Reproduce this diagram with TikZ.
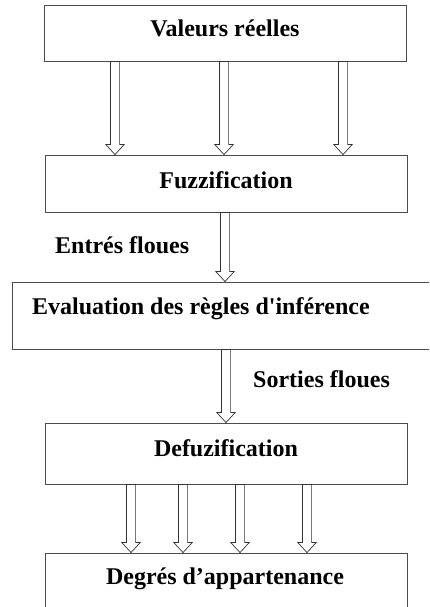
\documentclass[tikz,border=0pt]{standalone}
\usepackage{fontspec}
\setmainfont{Liberation Serif}
\usetikzlibrary{calc}

\tikzset{
  box/.style={draw=black!70, line width=0.9pt, fill=white, rectangle, inner sep=0pt},
  lbl/.style={font=\fontsize{24}{28}\selectfont\bfseries, inner sep=0pt},
  % hollow block arrow drawn from the start point straight down to the target
  hollow/.style={draw=black!80, line width=0.7pt, fill=white,
    to path={let \p1=(\tikztostart), \p2=(\tikztotarget) in
      (\x1-4.6pt,\y1) -- (\x1+4.6pt,\y1) -- (\x1+4.6pt,\y2+10pt)
      -- (\x1+9.2pt,\y2+10pt) -- (\x1,\y2) -- (\x1-9.2pt,\y2+10pt)
      -- (\x1-4.6pt,\y2+10pt) -- cycle}}
}

\begin{document}
\begin{tikzpicture}[x=1pt, y=-1pt]
  \useasboundingbox (0,0) rectangle (429,607);
  \clip (0,0) rectangle (429,607);

  % process boxes
  \node[box, minimum width=362pt, minimum height=56pt] (b1) at (225,33) {};
  \node[box, minimum width=362pt, minimum height=57pt] (b2) at (226,183.5) {};
  \node[box, minimum width=430pt, minimum height=67pt] (b3) at (227,315.5) {};
  \node[box, minimum width=362pt, minimum height=61pt] (b4) at (226,453.5) {};
  \node[box, minimum width=362pt, minimum height=70pt] (b5) at (226,588) {};

  % box titles
  \node[lbl, anchor=base] (t1) at (225,37) {Valeurs réelles};
  \node[lbl, anchor=base] (t2) at (226,188) {Fuzzification};
  \node[lbl, anchor=base west] (t3) at (32,314) {Evaluation des règles d\textquotesingle inférence};
  \node[lbl, anchor=base] (t4) at (226,456) {Defuzification};
  \node[lbl, anchor=base] (t5) at (225,584) {Degrés d’appartenance};

  % flow labels
  \node[lbl, anchor=base west] (l1) at (55,253) {Entrés floues};
  \node[lbl, anchor=base west] (l2) at (253,387) {Sorties floues};

  % arrows: real values into fuzzification
  \draw[hollow] (b1.south -| 115,0) to (b2.north -| 115,0);
  \draw[hollow] (b1.south -| 224,0) to (b2.north -| 224,0);
  \draw[hollow] (b1.south -| 343,0) to (b2.north -| 343,0);

  % fuzzy inputs and outputs
  \draw[hollow] (b2.south -| 225,0) to (b3.north -| 225,0);
  \draw[hollow] (b3.south -| 226,0) to (b4.north -| 226,0);

  % defuzzified outputs into membership degrees
  \draw[hollow] (b4.south -| 131,0) to (b5.north -| 131,0);
  \draw[hollow] (b4.south -| 183,0) to (b5.north -| 183,0);
  \draw[hollow] (b4.south -| 240,0) to (b5.north -| 240,0);
  \draw[hollow] (b4.south -| 307,0) to (b5.north -| 307,0);
\end{tikzpicture}
\end{document}
